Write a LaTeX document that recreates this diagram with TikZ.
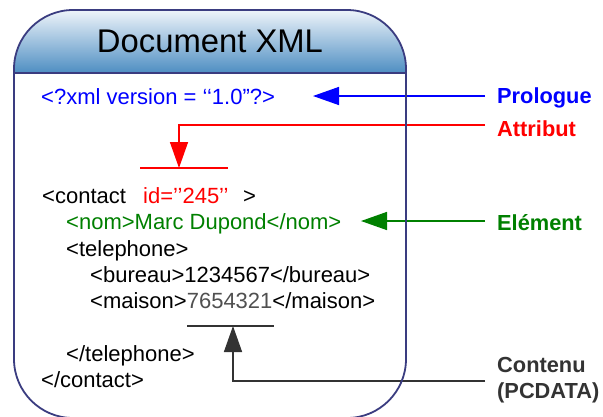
\documentclass[tikz,border=0pt]{standalone}
\usepackage{fontspec}
\setmainfont{Liberation Sans}
\usetikzlibrary{arrows.meta}
\definecolor{frame}{RGB}{58,60,128}
\definecolor{headtop}{RGB}{238,244,250}
\definecolor{headbot}{RGB}{78,142,194}
\definecolor{pblue}{RGB}{0,0,255}
\definecolor{ared}{RGB}{255,0,0}
\definecolor{egreen}{RGB}{0,128,0}
\definecolor{cdark}{RGB}{51,51,51}
\definecolor{pcgray}{RGB}{80,80,80}
\tikzset{
  code/.style={inner sep=0pt, anchor=base west, font=\fontsize{22}{26}\selectfont},
  lbl/.style={inner sep=0pt, anchor=base west, font=\fontsize{21.8}{26}\selectfont\bfseries},
  pointer/.style={line width=1.5pt, -{Triangle[length=26pt,width=18pt]}},
  mark line/.style={line width=1.5pt},
}
\begin{document}
\begin{tikzpicture}[x=1pt,y=-1pt]
\useasboundingbox (0,0) rectangle (603,416);
\clip (0,0) rectangle (603,416);
\fill[white] (0,0) rectangle (603,416);

% document frame: body and shaded header
\fill[white, rounded corners=59pt] (14,10) rectangle (406,418);
\shade[top color=headtop, bottom color=headbot]
  (14,73) [rounded corners=60pt] -- (14,10) -- (406,10) [sharp corners] -- (406,73) -- cycle;
\node[inner sep=0pt, anchor=base, font=\fontsize{32.8}{36}\selectfont] (title) at (210,52) {Document XML};

% XML source lines
\node[code, text=pblue] (prolog) at (41,104) {<?xml version = ‘‘1.0"?>};
\node[code] (contact) at (42,203) {<contact};
\node[code, text=ared] (attr) at (143,203) {id=’’245’’};
\node[code] (contactend) at (243,203) {>};
\node[code, text=egreen] (nom) at (66,229.5) {<nom>Marc Dupond</nom>};
\node[code] (tel) at (66,256) {<telephone>};
\node[code] (bureau) at (90,282) {<bureau>1234567</bureau>};
\node[code] (maison) at (90,308) {<maison>\textcolor{pcgray}{7654321}</maison>};
\node[code] (telend) at (66,361) {</telephone>};
\node[code] (contactclose) at (41,387.5) {</contact>};

% legend labels
\node[lbl, text=pblue] (lprolog) at (497,103) {Prologue};
\node[lbl, text=ared] (lattr) at (497,136) {Attribut};
\node[lbl, text=egreen] (lelem) at (497,230) {Elément};
\node[lbl, text=cdark, align=left, anchor=west] (lcont) at (497,380) {Contenu\\(PCDATA)};

% underline marks and arrow anchors
\coordinate (ua) at (140,168);
\coordinate (ub) at (228,168);
\coordinate (ca) at (187,326);
\coordinate (cb) at (274,326);
\coordinate (ptip) at (313,96);
\coordinate (pstart) at (485,96);
\coordinate (astart) at (485,125);
\coordinate (atip) at (179,168);
\coordinate (etip) at (361,221);
\coordinate (estart) at (485,221);
\coordinate (cstart) at (485,381);
\coordinate (ctip) at (233,326);

\draw[mark line, ared] (ua) -- (ub);
\draw[mark line, cdark] (ca) -- (cb);

% connectors
\draw[pointer, pblue] (pstart) -- (ptip);
\draw[pointer, ared] (astart) -| (atip);
\draw[pointer, egreen] (estart) -- (etip);
\draw[pointer, cdark] (cstart) -| (ctip);

% frame outline on top
\draw[frame, line width=1.8pt] (14,73) -- (406,73);
\draw[frame, line width=1.8pt, rounded corners=59pt] (14,10) rectangle (406,418);
\end{tikzpicture}
\end{document}
